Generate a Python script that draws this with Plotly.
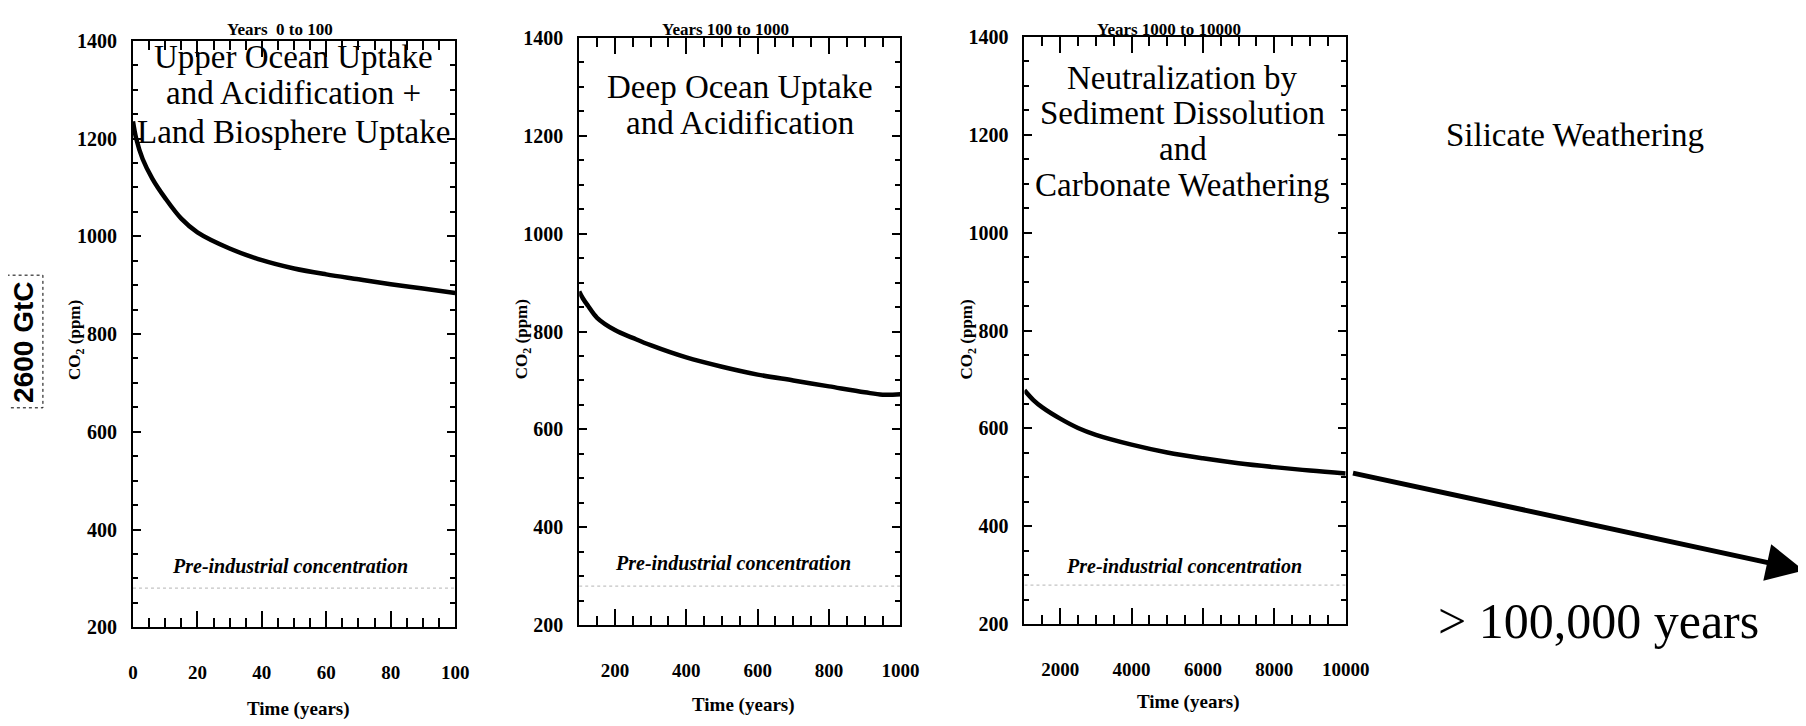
import plotly.graph_objects as go

# ---------------- data ----------------
t1 = [0, 1, 3, 6, 10, 15, 20, 30, 40, 50, 60, 70, 80, 90, 100]
co2_1 = [1235, 1200, 1158, 1118, 1078, 1036, 1008, 975, 951, 934, 922, 912, 902, 893, 884]

t2 = [100, 110, 125, 150, 200, 250, 300, 400, 500, 600, 700, 800, 900, 950, 1000]
co2_2 = [882, 868, 852, 828, 803, 787, 772, 747, 728, 712, 700, 688, 676, 671, 672]

t3 = [1000, 1250, 1500, 2000, 2500, 3000, 4000, 5000, 6000, 7000, 8000, 9000, 10000]
co2_3 = [678, 658, 643, 620, 601, 587, 567, 551, 539, 529, 521, 514, 508]

preindustrial_ppm = 280
panel_titles = ["Years  0 to 100", "Years 100 to 1000", "Years 1000 to 10000"]
process_labels = [
    ["Upper Ocean Uptake", "and Acidification +", "Land Biosphere Uptake"],
    ["Deep Ocean Uptake", "and Acidification"],
    ["Neutralization by", "Sediment Dissolution", "and", "Carbonate Weathering"],
]
x_ranges = [[0, 100], [100, 1000], [1000, 10000]]
x_dticks = [20, 200, 2000]
x_minor = [5, 50, 500]
y_range = [200, 1400]
emission_label = "2600 GtC"
final_label = "Silicate Weathering"
final_time = "> 100,000 years"
x_title = "Time (years)"
y_title = "CO<sub>2</sub> (ppm)"
pre_label = "Pre-industrial concentration"

# mapping from figure pixels to the captured picture (measured): out = S*fig + O
SX, SY = 0.9836, 0.9727
OX, OY = 13.1, 15.2
W, H = 1830, 740
SERIF = "Liberation Serif, Times New Roman, serif"


def px(x):
    return ((x - OX) / SX) / W


def py(y):
    return 1 - ((y - OY) / SY) / H


# panel geometry in picture pixels (left, right, top, bottom)
panels = [(133, 455, 37, 625), (579, 900, 34, 623), (1024, 1345, 33, 622)]

fig = go.Figure()
series = [(t1, co2_1), (t2, co2_2), (t3, co2_3)]
for i, (t, v) in enumerate(series):
    xa = "x" if i == 0 else f"x{i+1}"
    ya = "y" if i == 0 else f"y{i+1}"
    fig.add_trace(go.Scatter(x=x_ranges[i], y=[preindustrial_ppm, preindustrial_ppm],
                             mode="lines", xaxis=xa, yaxis=ya,
                             line=dict(color="#c4c4c4", width=1.2, dash="dot"),
                             showlegend=False, hoverinfo="skip"))
    fig.add_trace(go.Scatter(x=t, y=v, mode="lines", xaxis=xa, yaxis=ya,
                             line=dict(color="black", width=4.5, shape="spline"),
                             showlegend=False, hoverinfo="skip"))

layout = dict(width=W, height=H, margin=dict(l=0, r=0, t=0, b=0),
              paper_bgcolor="white", plot_bgcolor="white", showlegend=False)

annotations = []


def note(text, x, y, size, **kw):
    font = dict(family=kw.pop("family", SERIF), size=size, color="black")
    for k in ("weight", "style"):
        if k in kw:
            font[k] = kw.pop(k)
    d = dict(text=text, x=px(x), y=py(y), xref="paper", yref="paper",
             xanchor="center", yanchor="middle", showarrow=False, font=font)
    d.update(kw)
    annotations.append(d)


for i, (l, r, tp, bt) in enumerate(panels):
    sfx = "" if i == 0 else str(i + 1)
    layout["xaxis" + sfx] = dict(
        domain=[px(l), px(r)], range=x_ranges[i], anchor="y" + sfx,
        showgrid=False, zeroline=False, showline=True, linecolor="black", linewidth=2,
        mirror="ticks", ticks="inside", ticklen=16, tickwidth=2, tickcolor="black",
        dtick=x_dticks[i], tick0=0, tickformat="d", ticklabelstandoff=27,
        minor=dict(dtick=x_minor[i], ticks="inside", ticklen=9, tickwidth=1.5, tickcolor="black"),
        tickfont=dict(family=SERIF, size=19, color="black", weight="bold"),
    )
    layout["yaxis" + sfx] = dict(
        domain=[py(bt), py(tp)], range=y_range, anchor="x" + sfx,
        showgrid=False, zeroline=False, showline=True, linecolor="black", linewidth=2,
        mirror="ticks", ticks="inside", ticklen=8, tickwidth=2, tickcolor="black",
        dtick=200, ticklabelstandoff=10,
        minor=dict(dtick=50, ticks="inside", ticklen=5, tickwidth=1.5, tickcolor="black"),
        tickfont=dict(family=SERIF, size=20, color="black", weight="bold"),
    )

# panel titles, kept just inside the top edge of the figure
for txt, x in zip(panel_titles, [280, 725, 1168]):
    annotations.append(dict(text=txt, x=px(x), y=1, xref="paper", yref="paper",
                            xanchor="center", yanchor="top", showarrow=False, borderpad=0,
                            font=dict(family=SERIF, size=17, color="black", weight="bold")))

# x-axis titles
for x, y in [(298, 707), (743, 703), (1188, 700)]:
    note(x_title, x, y, 19, weight="bold")

# y-axis titles
for x, y in [(76, 337), (523, 336), (968, 336)]:
    note(y_title, x, y, 17, weight="bold", textangle=-90)

# process labels, one line per annotation
label_pos = [
    (293, [53, 89, 128]),
    (740, [83, 119]),
    (1182, [74, 109, 146, 182]),
]
for lines, (x, ys) in zip(process_labels, label_pos):
    for line, y in zip(lines, ys):
        note(line, x, y, 33)

# pre-industrial labels
for x, y in [(290, 564), (733, 561), (1183, 564)]:
    note(pre_label, x, y, 20, weight="bold", style="italic")

# silicate weathering + long-term label
note(final_label, 1574, 131, 33)
note(final_time, 1598, 619, 50)

# long-term arrow
annotations.append(dict(text="", x=px(1803), y=py(568), xref="paper", yref="paper",
                        ax=(1358 - 1803) / SX, ay=(473 - 568) / SY, axref="pixel", ayref="pixel",
                        showarrow=True, arrowhead=2, arrowsize=1.5, arrowwidth=5,
                        arrowcolor="black", standoff=0, startstandoff=0))

# emission label
note(emission_label, 24, 339, 28, weight="bold", textangle=-90,
     family="Liberation Sans, Arial, sans-serif")

layout["annotations"] = annotations
layout["shapes"] = [dict(type="rect", xref="paper", yref="paper",
                         x0=px(5), x1=px(43), y0=py(405), y1=py(272),
                         line=dict(color="black", width=1, dash="dot"))]

fig.update_layout(**layout)
fig.write_html("out.html")
